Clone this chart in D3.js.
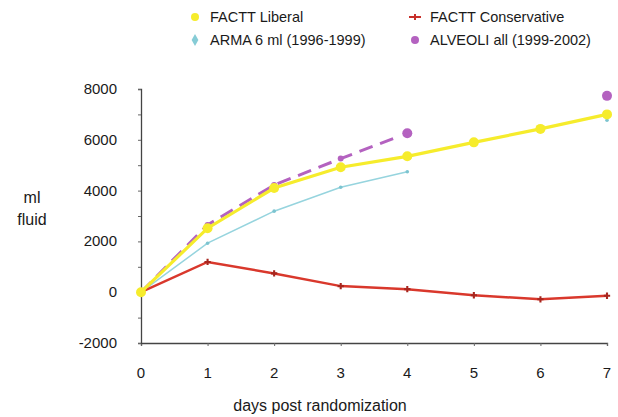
<!DOCTYPE html>
<html>
<head>
<meta charset="utf-8">
<script src="https://cdn.jsdelivr.net/npm/d3@7"></script>
<style>
  body { margin: 0; background: #fff; }
  text { font-family: "Liberation Sans", Arial, sans-serif; fill: #1a1a1a; }
</style>
</head>
<body>
<div id="chart"></div>
<script>
// days on x axis
const days = [0, 1, 2, 3, 4, 5, 6, 7];
const yTicks = [-2000, 0, 2000, 4000, 6000, 8000];

// series values (ml fluid)
const liberal = [0, 2520, 4100, 4920, 5350, 5900, 6430, 7000];
const conservative = [0, 1190, 740, 240, 120, -120, -280, -140];
const armaDays = [0, 1, 2, 3, 4];
const arma = [0, 1930, 3190, 4130, 4740];
const armaExtraDay = 7;
const armaExtra = 6770;
const alveoliDays = [0, 1, 2, 3, 4];
const alveoli = [0, 2650, 4220, 5260, 6260];
const alveoliExtraDay = 7;
const alveoliExtra = 7730;

const width = 618, height = 417;

const svg = d3.select("#chart").append("svg")
    .attr("width", width)
    .attr("height", height);

const x = d3.scaleLinear().domain([0, 7]).range([141, 607]);
const y = d3.scaleLinear().domain([-2000, 8000]).range([343, 89]);

// axes
svg.append("g")
    .attr("transform", `translate(0,${y(-2000)})`)
    .call(d3.axisBottom(x).tickValues(days).tickSize(3).tickFormat(""))
    .call(g => g.select(".domain").attr("stroke", "#444").attr("stroke-width", 1.3))
    .call(g => g.selectAll(".tick line").attr("stroke", "#666"));

svg.append("g")
    .attr("transform", `translate(${x(0)},0)`)
    .call(d3.axisLeft(y).ticks(10).tickSize(3).tickFormat(""))
    .call(g => g.select(".domain").attr("stroke", "#444").attr("stroke-width", 1.3))
    .call(g => g.selectAll(".tick line").attr("stroke", "#666"));

// tick labels
svg.append("g").selectAll("text")
    .data(days)
    .enter().append("text")
    .attr("x", d => x(d))
    .attr("y", 378)
    .attr("text-anchor", "middle")
    .style("font-size", "15px")
    .text(d => d);

svg.append("g").selectAll("text")
    .data(yTicks)
    .enter().append("text")
    .attr("x", 117)
    .attr("y", d => y(d) + 5)
    .attr("text-anchor", "end")
    .style("font-size", "15px")
    .text(d => d);

svg.append("text")
    .attr("x", 320).attr("y", 411)
    .attr("text-anchor", "middle")
    .style("font-size", "16px")
    .text("days post randomization");

svg.append("text")
    .attr("x", 32).attr("y", 203)
    .attr("text-anchor", "middle")
    .style("font-size", "16px")
    .text("ml");
svg.append("text")
    .attr("x", 32).attr("y", 225)
    .attr("text-anchor", "middle")
    .style("font-size", "16px")
    .text("fluid");

const line = d3.line().x(d => x(d[0])).y(d => y(d[1]));

// ARMA
const armaPts = armaDays.map((d, i) => [d, arma[i]]);
svg.append("path")
    .attr("d", line(armaPts))
    .attr("fill", "none")
    .attr("stroke", "#96d4de")
    .attr("stroke-width", 1.5);
svg.append("g").selectAll("circle")
    .data(armaPts.concat([[armaExtraDay, armaExtra]]))
    .enter().append("circle")
    .attr("cx", d => x(d[0])).attr("cy", d => y(d[1]))
    .attr("r", 1.8)
    .attr("fill", "#7cc4d0");

// Conservative
const consPts = days.map((d, i) => [d, conservative[i]]);
svg.append("path")
    .attr("d", line(consPts))
    .attr("fill", "none")
    .attr("stroke", "#d9382c")
    .attr("stroke-width", 2.5);
const plus = d3.symbol().type(d3.symbolCross).size(22);
svg.append("g").selectAll("path")
    .data(consPts)
    .enter().append("path")
    .attr("d", plus)
    .attr("transform", d => `translate(${x(d[0])},${y(d[1])})`)
    .attr("fill", "#a8261e");

// ALVEOLI dashed, stops short of the day-4 dot
const alvPts = alveoliDays.map((d, i) => [d, alveoli[i]]);
svg.append("path")
    .attr("d", line(alvPts.slice(0, 4).concat([[3.8, alveoli[3] + (alveoli[4] - alveoli[3]) * 0.8]])))
    .attr("fill", "none")
    .attr("stroke", "#b462c0")
    .attr("stroke-width", 3)
    .attr("stroke-dasharray", "14,8");
svg.append("g").selectAll("circle")
    .data(alvPts.slice(1, 4))
    .enter().append("circle")
    .attr("cx", d => x(d[0])).attr("cy", d => y(d[1]))
    .attr("r", 3)
    .attr("fill", "#b462c0");

// Liberal
const libPts = days.map((d, i) => [d, liberal[i]]);
svg.append("path")
    .attr("d", line(libPts))
    .attr("fill", "none")
    .attr("stroke", "#f6ec2c")
    .attr("stroke-width", 3.2);
svg.append("g").selectAll("circle")
    .data(libPts)
    .enter().append("circle")
    .attr("cx", d => x(d[0])).attr("cy", d => y(d[1]))
    .attr("r", 5)
    .attr("fill", "#f6ec2c");

// ALVEOLI big dots
svg.append("g").selectAll("circle")
    .data([alvPts[4], [alveoliExtraDay, alveoliExtra]])
    .enter().append("circle")
    .attr("cx", d => x(d[0])).attr("cy", d => y(d[1]))
    .attr("r", 5)
    .attr("fill", "#b462c0");

// legend
const legendData = [
  { label: "FACTT Liberal", color: "#f6ec2c", shape: "circle", x: 195, y: 17 },
  { label: "ARMA 6 ml (1996-1999)", color: "#86ccd6", shape: "diamond", x: 195, y: 40 },
  { label: "FACTT Conservative", color: "#c8302a", shape: "cross", x: 415, y: 17 },
  { label: "ALVEOLI all (1999-2002)", color: "#b462c0", shape: "circle", x: 415, y: 40 }
];
const legend = svg.append("g");
legendData.forEach(d => {
  if (d.shape === "circle") {
    legend.append("circle").attr("cx", d.x).attr("cy", d.y).attr("r", 4).attr("fill", d.color);
  } else if (d.shape === "diamond") {
    legend.append("path").attr("d", d3.symbol().type(d3.symbolDiamond).size(40))
      .attr("transform", `translate(${d.x},${d.y})`).attr("fill", d.color);
  } else {
    legend.append("line").attr("x1", d.x - 6).attr("x2", d.x + 6).attr("y1", d.y).attr("y2", d.y)
      .attr("stroke", d.color).attr("stroke-width", 2);
    legend.append("path").attr("d", d3.symbol().type(d3.symbolCross).size(20))
      .attr("transform", `translate(${d.x},${d.y})`).attr("fill", d.color);
  }
  legend.append("text")
    .attr("x", d.x + 15).attr("y", d.y + 5)
    .style("font-size", "14.5px")
    .text(d.label);
});
</script>
</body>
</html>
